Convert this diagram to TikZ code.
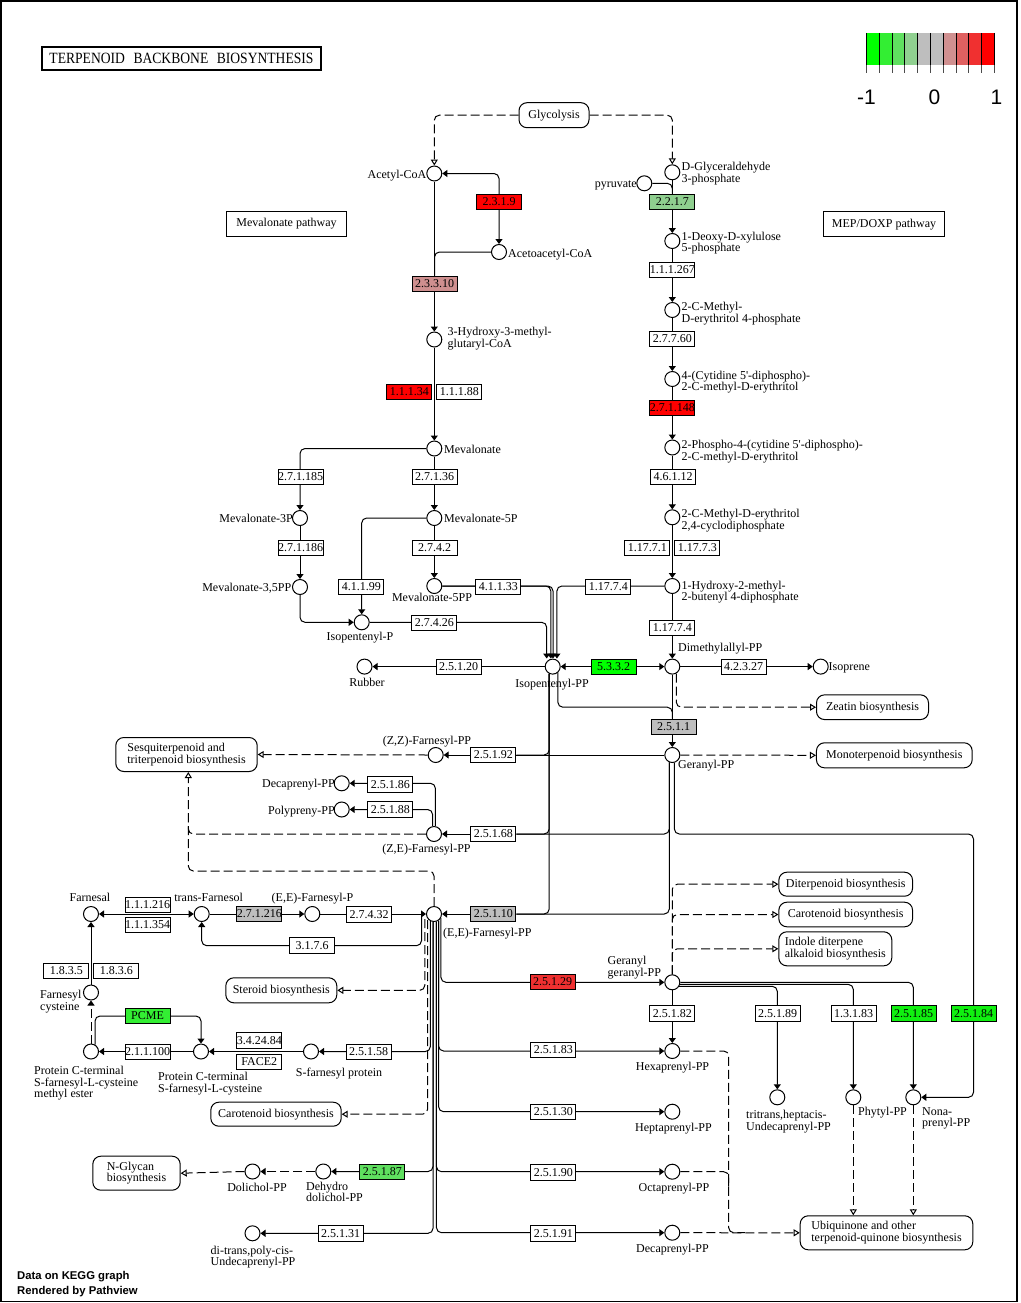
\documentclass[tikz,border=0pt]{standalone}
\usepackage{fontspec}
\setmainfont{Liberation Serif}
\newfontfamily\sansf{Liberation Sans}
\usepackage{graphicx}
\usetikzlibrary{arrows.meta,calc}
\pgfdeclarelayer{bg}
\pgfsetlayers{bg,main}
\newcommand{\kfont}{\fontsize{12}{11.6}\selectfont}
\newcommand{\efont}{\fontsize{12}{12}\selectfont}
\newcommand{\twol}[2]{\vtop{\hbox{#1}\hbox{#2}}}
\newcommand{\threel}[3]{\vtop{\hbox{#1}\hbox{#2}\hbox{#3}}}
\definecolor{eRed}{HTML}{FF0000}
\definecolor{eRed2}{HTML}{EF3030}
\definecolor{ePink}{HTML}{CF8F8F}
\definecolor{eGreen}{HTML}{00FF00}
\definecolor{eGreen2}{HTML}{33EE33}
\definecolor{eGreen3}{HTML}{5FDF5F}
\definecolor{eGreen4}{HTML}{8FCF8F}
\definecolor{eGreenB}{HTML}{10F010}
\definecolor{eGray}{HTML}{BEBEBE}
\definecolor{lg0}{HTML}{00FF00}
\definecolor{lg1}{HTML}{33EE33}
\definecolor{lg2}{HTML}{5FE05F}
\definecolor{lg3}{HTML}{90D090}
\definecolor{lg4}{HTML}{BEBEBE}
\definecolor{lg5}{HTML}{BEBEBE}
\definecolor{lg6}{HTML}{D09090}
\definecolor{lg7}{HTML}{E06060}
\definecolor{lg8}{HTML}{F03030}
\definecolor{lg9}{HTML}{FF0000}
\tikzset{
  cpd/.style={circle, draw, fill=white, line width=1pt, minimum size=15pt, inner sep=0pt},
  enz/.style={draw, fill=white, line width=1pt, minimum width=45pt, minimum height=15.7pt, inner sep=0pt, font=\efont},
  mapb/.style={draw, fill=white, line width=1pt, rounded corners=8pt, inner sep=0pt, align=left, font=\kfont},
  plainb/.style={draw, fill=white, line width=1pt, inner sep=0pt, font=\kfont},
  lbl/.style={inner sep=0pt, font=\kfont},
  rx/.style={line width=1pt, rounded corners=5pt},
  ar/.style={-{Triangle[length=5pt,width=7pt]}},
  arb/.style={{Triangle[length=5pt,width=7pt]}-{Triangle[length=5pt,width=7pt]}},
  dsh/.style={line width=1pt, dash pattern=on 9pt off 4pt, rounded corners=5pt},
  ml/.style={dsh, -{Triangle[open,length=6pt,width=7pt]}}
}
\begin{document}
\begin{tikzpicture}[x=1pt,y=-1pt]
\useasboundingbox (0,0) rectangle (1020,1303);
\draw[line width=1.5pt] (1,1) rectangle (1017,1301.5);

% title
\node[draw, line width=2pt, minimum width=279.6pt, minimum height=23.3pt, inner sep=0pt, font=\fontsize{13.6}{14}\selectfont] (title) at (181.5,58.4) {\scalebox{1}[1.15]{TERPENOID\hspace{8.5pt}BACKBONE\hspace{8.5pt}BIOSYNTHESIS}};

% legend
\foreach \i in {0,...,9} \fill[lg\i] (866.7+12.76*\i,33) rectangle ++(12.76,32);
\foreach \i in {0,...,10} {
  \draw[line width=1pt] (866.7+12.76*\i,33) -- ++(0,32);
  \draw[line width=1pt, gray!60!black] (866.7+12.76*\i,65) -- ++(0,8);
}
\node[inner sep=0pt, anchor=base, font=\sansf\fontsize{21}{21}\selectfont] (lgm1) at (866.5,104.5) {-1};
\node[inner sep=0pt, anchor=base, font=\sansf\fontsize{21}{21}\selectfont] (lgz) at (934.5,104.5) {0};
\node[inner sep=0pt, anchor=base, font=\sansf\fontsize{21}{21}\selectfont] (lgp1) at (996.5,104.5) {1};

% footer
\node[inner sep=0pt, anchor=base west, font=\sansf\bfseries\fontsize{11.3}{14}\selectfont] (ftra) at (17,1279.5) {Data on KEGG graph};
\node[inner sep=0pt, anchor=base west, font=\sansf\bfseries\fontsize{11.3}{14}\selectfont] (ftrb) at (17,1294.7) {Rendered by Pathview};

% map boxes
\node[mapb, minimum width=70pt, minimum height=25pt] (mglyco) at (554,115.2) {Glycolysis};
\node[plainb, minimum width=119.4pt, minimum height=24.4pt] (mmevpath) at (286.5,224) {Mevalonate pathway};
\node[plainb, minimum width=120.4pt, minimum height=25pt] (mmep) at (884,224.3) {MEP/DOXP pathway};
\node[mapb, minimum width=112pt, minimum height=24.7pt] (mzeatin) at (872.5,707.2) {Zeatin biosynthesis};
\node[mapb, minimum width=155.7pt, minimum height=25pt] (mmono) at (894.3,755.3) {Monoterpenoid biosynthesis};
\node[mapb, minimum width=141.4pt, minimum height=34pt] (msesqui) at (186.5,754.5) {Sesquiterpenoid and\\triterpenoid biosynthesis};
\node[mapb, minimum width=133.7pt, minimum height=24pt] (mditerp) at (845.7,884.2) {Diterpenoid biosynthesis};
\node[mapb, minimum width=133.7pt, minimum height=24.6pt] (mcarota) at (845.7,914.5) {Carotenoid biosynthesis};
\node[mapb, minimum width=113pt, minimum height=34pt] (mindole) at (835.3,948.8) {Indole diterpene\\alkaloid biosynthesis};
\node[mapb, minimum width=111pt, minimum height=25pt] (msteroid) at (281.3,990.3) {Steroid biosynthesis};
\node[mapb, minimum width=130.4pt, minimum height=24pt] (mcarotb) at (276,1114.2) {Carotenoid biosynthesis};
\node[mapb, minimum width=87.4pt, minimum height=34pt] (mnglycan) at (136.5,1173.2) {N-Glycan\\biosynthesis};
\node[mapb, minimum width=172.6pt, minimum height=34pt] (mubiq) at (886.5,1232.8) {Ubiquinone and other\\terpenoid-quinone biosynthesis};

% compounds
\node[cpd] (cacetyl) at (434.3,173.5) {};
\node[cpd] (cacac) at (499,252) {};
\node[cpd] (chmg) at (434.3,339.5) {};
\node[cpd] (cmev) at (434.3,448.5) {};
\node[cpd] (cmevtp) at (300,518) {};
\node[cpd] (cmevfp) at (434.3,518) {};
\node[cpd] (cmevtpp) at (300,587) {};
\node[cpd] (cmevfpp) at (434.3,586) {};
\node[cpd] (cippp) at (361.7,622.3) {};
\node[cpd] (cipp) at (552.7,666.6) {};
\node[cpd] (crubber) at (364.5,666.6) {};
\node[cpd] (cdmapp) at (672.3,666.6) {};
\node[cpd] (cisoprene) at (820.7,666.6) {};
\node[cpd] (cgpp) at (672.3,755) {};
\node[cpd] (czzfpp) at (435.7,755) {};
\node[cpd] (cdecappa) at (341.7,783.3) {};
\node[cpd] (cpolypp) at (341.7,809.5) {};
\node[cpd] (czefpp) at (434,834) {};
\node[cpd] (ceefpp) at (434,914) {};
\node[cpd] (ceefp) at (312.3,914) {};
\node[cpd] (cfarnesol) at (201.7,914) {};
\node[cpd] (cfarnesal) at (91,914) {};
\node[cpd] (cfarcys) at (91,992.5) {};
\node[cpd] (cpcme) at (91,1051.5) {};
\node[cpd] (cpcsc) at (201,1051.5) {};
\node[cpd] (csfp) at (311,1051.5) {};
\node[cpd] (cdol) at (252.5,1171.5) {};
\node[cpd] (cdehydro) at (323.3,1171.5) {};
\node[cpd] (cundeca) at (252.5,1233.3) {};
\node[cpd] (cggpp) at (672.3,982.3) {};
\node[cpd] (chexa) at (672.3,1051) {};
\node[cpd] (chepta) at (672.3,1111.7) {};
\node[cpd] (cocta) at (672.3,1171.7) {};
\node[cpd] (cdecappb) at (672.3,1232.7) {};
\node[cpd] (cundecb) at (777.3,1097.3) {};
\node[cpd] (cphytyl) at (853.3,1097.3) {};
\node[cpd] (cnona) at (913.3,1097.3) {};
\node[cpd] (cgap) at (672.3,172.3) {};
\node[cpd] (cpyr) at (644.3,183.3) {};
\node[cpd] (cdxp) at (672.3,241) {};
\node[cpd] (cmep) at (672.3,310) {};
\node[cpd] (ccdpme) at (672.3,379) {};
\node[cpd] (ccdpmep) at (672.3,447.5) {};
\node[cpd] (cmecpp) at (672.3,517.3) {};
\node[cpd] (chmbpp) at (672.3,586) {};

% enzymes
\node[enz, fill=eRed] (eAa) at (499,202) {2.3.1.9};
\node[enz, fill=ePink] (eAb) at (434.5,284) {2.3.3.10};
\node[enz, fill=eRed] (eAc) at (409.3,392) {1.1.1.34};
\node[enz] (eAd) at (459.3,392) {1.1.1.88};
\node[enz] (eAe) at (300.5,477) {2.7.1.185};
\node[enz] (eAf) at (434.5,477) {2.7.1.36};
\node[enz] (eAg) at (300.5,548) {2.7.1.186};
\node[enz] (eAh) at (434.5,548) {2.7.4.2};
\node[enz] (eAi) at (361.3,587) {4.1.1.99};
\node[enz] (eAj) at (498.3,587) {4.1.1.33};
\node[enz] (eAk) at (434.3,623) {2.7.4.26};
\node[enz] (eBa) at (608.3,587) {1.17.7.4};
\node[enz] (eBb) at (672.3,628) {1.17.7.4};
\node[enz] (eBc) at (647.3,548) {1.17.7.1};
\node[enz] (eBd) at (697.3,548) {1.17.7.3};
\node[enz] (eBe) at (673,477) {4.6.1.12};
\node[enz, fill=eRed] (eBf) at (672.3,408) {2.7.1.148};
\node[enz] (eBg) at (672.3,339) {2.7.7.60};
\node[enz] (eBh) at (672.3,270) {1.1.1.267};
\node[enz, fill=eGreen4] (eBi) at (672.3,202) {2.2.1.7};
\node[enz] (eCa) at (458.5,667) {2.5.1.20};
\node[enz, fill=eGreen] (eCb) at (613.5,667) {5.3.3.2};
\node[enz] (eCc) at (743.5,667) {4.2.3.27};
\node[enz, fill=eGray] (eCd) at (673.5,727) {2.5.1.1};
\node[enz] (eCe) at (493.3,755) {2.5.1.92};
\node[enz] (eCf) at (390.3,784.5) {2.5.1.86};
\node[enz] (eCg) at (390.3,809.3) {2.5.1.88};
\node[enz] (eCh) at (493.3,834) {2.5.1.68};
\node[enz, fill=eGray] (eCi) at (493.3,914) {2.5.1.10};
\node[enz] (eDa) at (369,914.5) {2.7.4.32};
\node[enz, fill=eGray] (eDb) at (259.3,914) {2.7.1.216};
\node[enz] (eDc) at (147.5,905) {1.1.1.216};
\node[enz] (eDd) at (147.5,925) {1.1.1.354};
\node[enz] (eDe) at (312,945.7) {3.1.7.6};
\node[enz] (eDf) at (66.3,971) {1.8.3.5};
\node[enz] (eDg) at (116.3,971) {1.8.3.6};
\node[enz, fill=eGreen2] (eDh) at (147.5,1016) {PCME};
\node[enz] (eDi) at (147.5,1052) {2.1.1.100};
\node[enz] (eDj) at (259.3,1040.3) {3.4.24.84};
\node[enz] (eDk) at (259.3,1062) {FACE2};
\node[enz] (eDl) at (368.7,1052) {2.5.1.58};
\node[enz, fill=eGreen3] (eDm) at (382.3,1172) {2.5.1.87};
\node[enz] (eDn) at (340.5,1233.5) {2.5.1.31};
\node[enz, fill=eRed2] (eEa) at (552.5,982) {2.5.1.29};
\node[enz] (eEb) at (672.3,1013.5) {2.5.1.82};
\node[enz] (eEc) at (777.5,1013.5) {2.5.1.89};
\node[enz] (eEd) at (853.5,1013.5) {1.3.1.83};
\node[enz, fill=eGreenB] (eEe) at (913.5,1013.5) {2.5.1.85};
\node[enz, fill=eGreenB] (eEf) at (973.5,1013.5) {2.5.1.84};
\node[enz] (eEg) at (553.3,1050) {2.5.1.83};
\node[enz] (eEh) at (553.3,1112) {2.5.1.30};
\node[enz] (eEi) at (553.3,1172.5) {2.5.1.90};
\node[enz] (eEj) at (553.3,1233.5) {2.5.1.91};

% compound labels
\node[lbl, anchor=base east] (lacetyl) at (426.5,178) {Acetyl-CoA};
\node[lbl, anchor=base west] (lacac) at (508,257) {Acetoacetyl-CoA};
\node[lbl, anchor=base west] (lhmg) at (447.5,335.5) {\twol{3-Hydroxy-3-methyl-}{glutaryl-CoA}};
\node[lbl, anchor=base west] (lmev) at (444,453.5) {Mevalonate};
\node[lbl, anchor=base east] (lmevtp) at (293,522) {Mevalonate-3P};
\node[lbl, anchor=base west] (lmevfp) at (444,522) {Mevalonate-5P};
\node[lbl, anchor=base east] (lmevtpp) at (291.5,591.5) {Mevalonate-3,5PP};
\node[lbl, anchor=base] (lmevfpp) at (432,601.5) {Mevalonate-5PP};
\node[lbl, anchor=base] (lippp) at (360,640) {Isopentenyl-P};
\node[lbl, anchor=base] (lipp) at (552,687.5) {Isopentenyl-PP};
\node[lbl, anchor=base] (lrubber) at (367,686) {Rubber};
\node[lbl, anchor=base west] (ldmapp) at (678,651.5) {Dimethylallyl-PP};
\node[lbl, anchor=base west] (lisoprene) at (828.5,670.5) {Isoprene};
\node[lbl, anchor=base west] (lgpp) at (678,768) {Geranyl-PP};
\node[lbl, anchor=base] (lzzfpp) at (427,744) {(Z,Z)-Farnesyl-PP};
\node[lbl, anchor=base east] (ldecappa) at (335,787.5) {Decaprenyl-PP};
\node[lbl, anchor=base east] (lpolypp) at (335,814) {Polypreny-PP};
\node[lbl, anchor=base] (lzefpp) at (426.5,852) {(Z,E)-Farnesyl-PP};
\node[lbl, anchor=base west] (leefpp) at (443,936.5) {(E,E)-Farnesyl-PP};
\node[lbl, anchor=base] (leefp) at (312.5,901.5) {(E,E)-Farnesyl-P};
\node[lbl, anchor=base] (lfarnesol) at (208.7,901.5) {trans-Farnesol};
\node[lbl, anchor=base] (lfarnesal) at (90,901.5) {Farnesal};
\node[lbl, anchor=base west] (lfarcys) at (40,998.5) {\twol{Farnesyl}{cysteine}};
\node[lbl, anchor=base west] (lpcme) at (34,1074.5) {\threel{Protein C-terminal}{S-farnesyl-L-cysteine}{methyl ester}};
\node[lbl, anchor=base west] (lpcsc) at (158,1080.5) {\twol{Protein C-terminal}{S-farnesyl-L-cysteine}};
\node[lbl, anchor=base] (lsfp) at (339,1076.5) {S-farnesyl protein};
\node[lbl, anchor=base] (ldol) at (257,1191) {Dolichol-PP};
\node[lbl, anchor=base west] (ldehydro) at (306,1190) {\twol{Dehydro}{dolichol-PP}};
\node[lbl, anchor=base west] (lundeca) at (210.5,1254) {\twol{di-trans,poly-cis-}{Undecaprenyl-PP}};
\node[lbl, anchor=base west] (lggpp) at (607.5,964.5) {\twol{Geranyl}{geranyl-PP}};
\node[lbl, anchor=base] (lhexa) at (672.5,1070) {Hexaprenyl-PP};
\node[lbl, anchor=base] (lhepta) at (673.5,1131) {Heptaprenyl-PP};
\node[lbl, anchor=base] (locta) at (674,1191.5) {Octaprenyl-PP};
\node[lbl, anchor=base] (ldecappb) at (672.5,1252.5) {Decaprenyl-PP};
\node[lbl, anchor=base west] (lundecb) at (746,1118.5) {\twol{tritrans,heptacis-}{Undecaprenyl-PP}};
\node[lbl, anchor=base west] (lphytyl) at (858,1115) {Phytyl-PP};
\node[lbl, anchor=base west] (lnona) at (922,1115) {\twol{Nona-}{prenyl-PP}};
\node[lbl, anchor=base west] (lgap) at (681.5,170.5) {\twol{D-Glyceraldehyde}{3-phosphate}};
\node[lbl, anchor=base east] (lpyr) at (637,187) {pyruvate};
\node[lbl, anchor=base west] (ldxp) at (681.5,240) {\twol{1-Deoxy-D-xylulose}{5-phosphate}};
\node[lbl, anchor=base west] (lmep) at (681.5,310.5) {\twol{2-C-Methyl-}{D-erythritol 4-phosphate}};
\node[lbl, anchor=base west] (lcdpme) at (681.5,379) {\twol{4-(Cytidine 5\textquotesingle-diphospho)-}{2-C-methyl-D-erythritol}};
\node[lbl, anchor=base west] (lcdpmep) at (681.5,448.5) {\twol{2-Phospho-4-(cytidine 5\textquotesingle-diphospho)-}{2-C-methyl-D-erythritol}};
\node[lbl, anchor=base west] (lmecpp) at (681.5,517.5) {\twol{2-C-Methyl-D-erythritol}{2,4-cyclodiphosphate}};
\node[lbl, anchor=base west] (lhmbpp) at (681.5,589) {\twol{1-Hydroxy-2-methyl-}{2-butenyl 4-diphosphate}};

% helper coordinates
\coordinate (ippa) at (546.7,658.5);
\coordinate (ippb) at (550.8,658.5);
\coordinate (ippc) at (553.0,658.5);
\coordinate (ippd) at (556.9,658.5);
\coordinate (sqin) at (188.3,772);
\coordinate (sqh) at (188.3,871);
\coordinate (eetop) at (434,871);
\coordinate (sqze) at (188.3,822);
\coordinate (ba) at (421.5,917);
\coordinate (bb) at (424.8,919);
\coordinate (bc) at (427.6,920);
\coordinate (uq) at (728.7,1232.7);
\coordinate (uqend) at (745,1232.7);
\coordinate (uqoc) at (728.7,1190);

\begin{pgfonlayer}{bg}
% top
\draw[ml] (mglyco.west) -| (cacetyl.north);
\draw[ml] (mglyco.east) -| (cgap.north);
\draw[rx, arb] (cacetyl.east) -| (cacac.north);
\draw[rx, ar] (cacetyl.south) -- (chmg.north);
\draw[rx] (cacac.west) -| (eAb.north);
\draw[rx, ar] (chmg.south) -- (cmev.north);
\draw[rx, ar] (cmev.south) -- (cmevfp.north);
\draw[rx, ar] (cmev.west) -| (cmevtp.north);
\draw[rx, ar] (cmevtp.south) -- (cmevtpp.north);
\draw[rx, ar] (cmevfp.south) -- (cmevfpp.north);
\draw[rx, ar] (cmevfp.west) -| (cippp.north);
\draw[rx, ar] (cmevtpp.south) |- (cippp.west);
\draw[rx, ar] (cippp.east) -| (ippa);
\draw[rx, ar] (cmevfpp.east) -| (ippb);
\draw[rx, ar] (cmevfpp.east) -| (ippc);
\draw[rx, ar] (chmbpp.west) -| (ippd);
% MEP
\draw[rx, ar] (cgap.south) -- (cdxp.north);
\draw[rx] (cpyr.east) -| (eBi.north);
\draw[rx, ar] (cdxp.south) -- (cmep.north);
\draw[rx, ar] (cmep.south) -- (ccdpme.north);
\draw[rx, ar] (ccdpme.south) -- (ccdpmep.north);
\draw[rx, ar] (ccdpmep.south) -- (cmecpp.north);
\draw[rx, ar] (cmecpp.south) -- (chmbpp.north);
\draw[rx, ar] (chmbpp.south) -- (cdmapp.north);
% IPP / DMAPP
\draw[rx, arb] (cipp.east) -- (cdmapp.west);
\draw[rx, ar] (cipp.west) -- (crubber.east);
\draw[rx, ar] (cdmapp.east) -- (cisoprene.west);
\draw[ml] (cdmapp.-60) |- (mzeatin.west);
\draw[rx, ar] (cdmapp.south) -- (cgpp.north);
\draw[rx] (cipp.-50) |- (cdmapp |- mzeatin.west) -- (cdmapp |- eCd.north);
\draw[ml] (cgpp.east) -- (mmono.west);
\draw[rx, ar] (cgpp.west) -- (czzfpp.east);
\draw[rx] (cipp.-116) |- (eCe.east);
\draw[rx] (cipp.-116) |- (eCh.east);
\draw[rx] (cipp.-116) |- (eCi.east);
\draw[rx] (cgpp.-112) |- (eCh.east);
\draw[rx] (cgpp.-112) |- (eCi.east);
\draw[rx, ar] (eCh.west) -- (czefpp.east);
\draw[rx, ar] (eCi.west) -- (ceefpp.east);
\draw[rx, ar] (cgpp.-75) |- (eEf.center |- eCh.center) |- (cnona.east);
% farnesyl
\draw[ml] (czzfpp.west) -- (msesqui.east);
\draw[rx, ar] (czefpp.80) |- (cdecappa.east);
\draw[rx, ar] (czefpp.100) |- (cpolypp.east);
\draw[dsh] (czefpp.west) -| (sqze);
\draw[ml] (ceefpp.north) -- (eetop) -- (sqh) -- (sqin);
\draw[rx, ar] (ceefp.east) -- (ceefpp.west);
\draw[rx, ar] (cfarnesol.east) -- (ceefp.west);
\draw[rx, arb] (cfarnesol.west) -- (cfarnesal.east);
\draw[rx, ar] (ba) |- (eDe.center) -| (cfarnesol.south);
\draw[ml] (bb) |- (msteroid.east);
\draw[ml] (bc) |- (mcarotb.east);
\draw[rx, ar] (cfarcys.north) -- (cfarnesal.south);
\draw[dsh, ar] (cpcme.north) -- (cfarcys.south);
\draw[rx, ar] (cpcme.60) |- (eDh.center) -| (cpcsc.north);
\draw[rx, ar] (cpcsc.west) -- (cpcme.east);
\draw[rx, ar] (csfp.west) -- (cpcsc.east);
\draw[rx, ar] (ceefpp.-117) |- (csfp.east);
\draw[rx, ar] (ceefpp.-97) |- (cdehydro.east);
\draw[rx, ar] (ceefpp.-97) |- (cundeca.east);
\draw[dsh, ar] (cdehydro.west) -- (cdol.east);
\draw[ml] (cdol.west) -- (mnglycan.east);
\draw[rx, ar] (ceefpp.-30) |- (cggpp.west);
\draw[rx, ar] (ceefpp.-55) |- (chexa.west);
\draw[rx, ar] (ceefpp.-55) |- (chepta.west);
\draw[rx, ar] (ceefpp.-72) |- (cocta.west);
\draw[rx, ar] (ceefpp.-72) |- (cdecappb.west);
% GGPP
\draw[rx, ar] (cggpp.south) -- (chexa.north);
\draw[rx, ar] (cggpp.east) -| (cnona.north);
\draw[rx, ar] (cggpp.-15) -| (cphytyl.north);
\draw[rx, ar] (cggpp.-30) -| (cundecb.north);
\draw[ml] (cggpp.north) |- (mditerp.west);
\draw[ml] (cggpp.north) |- (mcarota.west);
\draw[ml] (cggpp.north) |- (mindole.west);
% to ubiquinone
\draw[dsh] (chexa.east) -| (uq) -- (uqend);
\draw[dsh] (cocta.east) -| (uqoc);
\draw[ml] (cdecappb.east) -- (mubiq.west);
\draw[ml] (cphytyl.south) -- (cphytyl |- mubiq.north);
\draw[ml] (cnona.south) -- (cnona |- mubiq.north);
\end{pgfonlayer}
\end{tikzpicture}
\end{document}
